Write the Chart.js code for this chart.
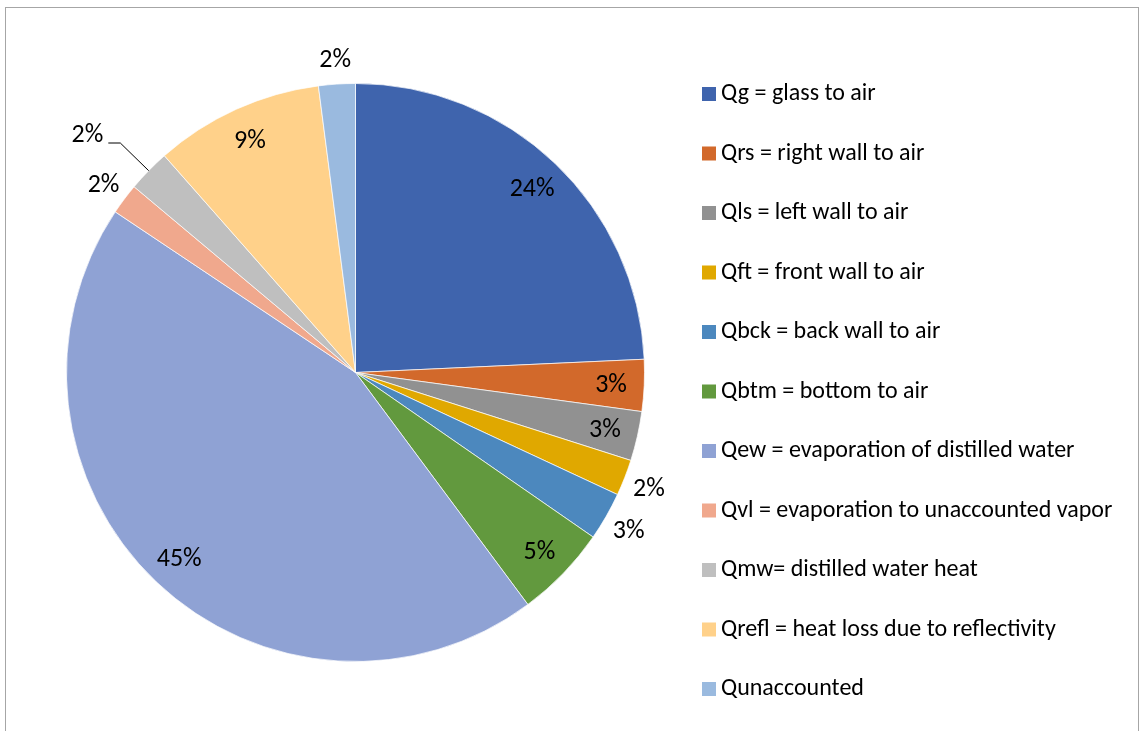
<!DOCTYPE html>
<html>
<head>
<meta charset="utf-8">
<script src="https://cdn.jsdelivr.net/npm/chart.js@4.4.0/dist/chart.umd.min.js"></script>
<style>
  html, body { margin: 0; padding: 0; background: #fff; overflow: hidden; }
  #frame {
    position: absolute; left: 5px; top: 7px; width: 1132px; height: 800px;
    border-left: 1px solid #a6a6a6; border-top: 1px solid #a6a6a6; border-right: 1px solid #a6a6a6;
  }
  #heat { position: absolute; left: 0; top: 0; }
</style>
</head>
<body>
<div id="frame"></div>
<canvas id="heat" width="1139" height="731"></canvas>
<script>
// heat balance components, share of total (%)
const labels = [
    "Qg = glass to air",
    "Qrs = right wall to air",
    "Qls = left wall to air",
    "Qft = front wall to air",
    "Qbck = back wall to air",
    "Qbtm = bottom to air",
    "Qew = evaporation of distilled water",
    "Qvl = evaporation to unaccounted vapor",
    "Qmw= distilled water heat",
    "Qrefl = heat loss due to reflectivity",
    "Qunaccounted"
];
const shares = [24.27, 2.89, 2.76, 2.02, 2.70, 5.19, 44.55, 1.73, 2.39, 9.45, 2.05];
const colors = [
    "#3f64ad", "#d2692b", "#919191", "#e0a800", "#4c88be", "#62993e",
    "#8fa2d4", "#f0a88d", "#bfbfbf", "#ffd18a", "#9abadf"
];
// where each percentage label sits: inside the slice, just outside, or outside with a leader line
const labelPlacement = ["in", "in", "in", "out", "out", "in", "in", "out", "leader", "in", "out"];

const FONT = '"Carlito", "Lato", sans-serif';

const sliceLabels = {
    id: "sliceLabels",
    afterDatasetsDraw(chart) {
        const ctx = chart.ctx;
        const data = chart.data.datasets[0].data;
        const total = data.reduce((a, b) => a + b, 0);
        ctx.save();
        ctx.font = "26px " + FONT;
        ctx.fillStyle = "#000";
        ctx.textBaseline = "middle";
        chart.getDatasetMeta(0).data.forEach((arc, i) => {
            const p = arc.getProps(["x", "y", "startAngle", "endAngle", "outerRadius"], true);
            const mid = (p.startAngle + p.endAngle) / 2;
            const c = Math.cos(mid), s = Math.sin(mid);
            const text = Math.round(data[i] / total * 100) + "%";
            if (labelPlacement[i] === "leader") {
                const ax = p.x + c * p.outerRadius, ay = p.y + s * p.outerRadius;
                const ex = p.x + c * p.outerRadius * 1.137, ey = p.y + s * p.outerRadius * 1.137;
                ctx.strokeStyle = "#000";
                ctx.lineWidth = 1;
                ctx.beginPath();
                ctx.moveTo(ax, ay);
                ctx.lineTo(ex, ey);
                ctx.lineTo(ex - 12, ey);
                ctx.stroke();
                ctx.textAlign = "right";
                ctx.fillText(text, ex - 17, ey - 8);
            } else {
                const r = p.outerRadius * (labelPlacement[i] === "in" ? 0.885 : 1.09);
                ctx.textAlign = "center";
                ctx.fillText(text, p.x + c * r, p.y + s * r + 2);
            }
        });
        ctx.restore();
    }
};

// legend column on the right
const sideLegend = {
    id: "sideLegend",
    afterDraw(chart) {
        const ctx = chart.ctx;
        const ds = chart.data.datasets[0];
        ctx.save();
        ctx.font = "24px " + FONT;
        ctx.textBaseline = "middle";
        ctx.textAlign = "left";
        chart.data.labels.forEach((lab, i) => {
            const y = 94 + i * 59.5;
            ctx.fillStyle = ds.backgroundColor[i];
            ctx.fillRect(702, y - 7, 14, 14);
            ctx.fillStyle = "#000";
            ctx.fillText(lab, 721, y);
        });
        ctx.restore();
    }
};

new Chart(document.getElementById("heat"), {
    type: "pie",
    data: {
        labels: labels,
        datasets: [{
            data: shares,
            backgroundColor: colors,
            borderColor: "rgba(255,255,255,0.7)",
            borderWidth: 1
        }]
    },
    options: {
        responsive: false,
        animation: false,
        events: [],
        layout: { padding: { left: 66, top: 83, right: 494, bottom: 69 } },
        plugins: {
            legend: { display: false },
            tooltip: { enabled: false }
        }
    },
    plugins: [sliceLabels, sideLegend]
});
</script>
</body>
</html>
